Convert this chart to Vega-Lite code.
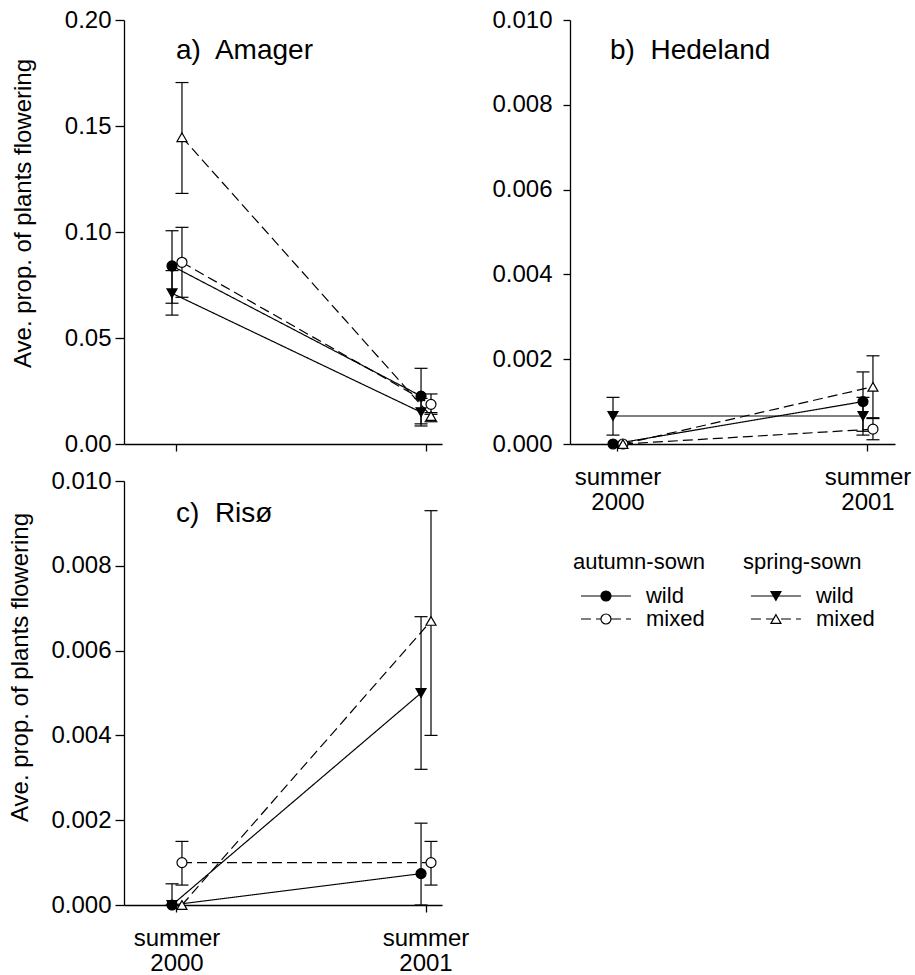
{
  "$schema": "https://vega.github.io/schema/vega-lite/v6.json",
  "autosize": "pad",
  "padding": {"left": 8, "top": 8, "right": 5, "bottom": 5},
  "background": "white",
  "config": {
    "font": "Liberation Sans",
    "view": {"stroke": null},
    "axis": {"grid": false, "domainColor": "black", "tickColor": "black", "labelColor": "black", "titleColor": "black", "labelFont": "Liberation Sans", "titleFont": "Liberation Sans", "labelFontSize": 24, "titleFontSize": 24, "titleFontWeight": "normal", "domainWidth": 1.3, "tickWidth": 1.3},
    "title": {"anchor": "start", "frame": "group", "offset": 0, "baseline": "alphabetic", "fontSize": 28, "fontWeight": "normal", "font": "Liberation Sans", "color": "black"},
    "text": {"font": "Liberation Sans", "color": "black"}
  },
  "bounds": "full",
  "spacing": 22,
  "datasets": {
    "flowering": [
      {"site": "Amager", "season": "summer 2000", "sowing": "autumn", "type": "wild", "series": "autumn wild", "mean": 0.084, "lo": 0.0664, "hi": 0.1006},
      {"site": "Amager", "season": "summer 2000", "sowing": "autumn", "type": "mixed", "series": "autumn mixed", "mean": 0.0857, "lo": 0.0692, "hi": 0.1022},
      {"site": "Amager", "season": "summer 2000", "sowing": "spring", "type": "wild", "series": "spring wild", "mean": 0.0711, "lo": 0.0608, "hi": 0.0818},
      {"site": "Amager", "season": "summer 2000", "sowing": "spring", "type": "mixed", "series": "spring mixed", "mean": 0.1447, "lo": 0.1182, "hi": 0.1705},
      {"site": "Amager", "season": "summer 2001", "sowing": "autumn", "type": "wild", "series": "autumn wild", "mean": 0.0226, "lo": 0.0095, "hi": 0.0357},
      {"site": "Amager", "season": "summer 2001", "sowing": "autumn", "type": "mixed", "series": "autumn mixed", "mean": 0.0187, "lo": 0.014, "hi": 0.0236},
      {"site": "Amager", "season": "summer 2001", "sowing": "spring", "type": "wild", "series": "spring wild", "mean": 0.015, "lo": 0.0085, "hi": 0.0215},
      {"site": "Amager", "season": "summer 2001", "sowing": "spring", "type": "mixed", "series": "spring mixed", "mean": 0.0132, "lo": 0.0105, "hi": 0.0148},
      {"site": "Hedeland", "season": "summer 2000", "sowing": "autumn", "type": "wild", "series": "autumn wild", "mean": 0, "lo": null, "hi": null},
      {"site": "Hedeland", "season": "summer 2000", "sowing": "autumn", "type": "mixed", "series": "autumn mixed", "mean": 0, "lo": null, "hi": null},
      {"site": "Hedeland", "season": "summer 2000", "sowing": "spring", "type": "wild", "series": "spring wild", "mean": 0.00066, "lo": 0.00021, "hi": 0.0011},
      {"site": "Hedeland", "season": "summer 2000", "sowing": "spring", "type": "mixed", "series": "spring mixed", "mean": 0, "lo": null, "hi": null},
      {"site": "Hedeland", "season": "summer 2001", "sowing": "autumn", "type": "wild", "series": "autumn wild", "mean": 0.001, "lo": 0.0003, "hi": 0.0017},
      {"site": "Hedeland", "season": "summer 2001", "sowing": "autumn", "type": "mixed", "series": "autumn mixed", "mean": 0.00035, "lo": 0.0001, "hi": 0.0006},
      {"site": "Hedeland", "season": "summer 2001", "sowing": "spring", "type": "wild", "series": "spring wild", "mean": 0.00066, "lo": 0.00021, "hi": 0.0011},
      {"site": "Hedeland", "season": "summer 2001", "sowing": "spring", "type": "mixed", "series": "spring mixed", "mean": 0.00135, "lo": 0.00062, "hi": 0.00208},
      {"site": "Risø", "season": "summer 2000", "sowing": "autumn", "type": "wild", "series": "autumn wild", "mean": 0, "lo": 0, "hi": 0.0005},
      {"site": "Risø", "season": "summer 2000", "sowing": "autumn", "type": "mixed", "series": "autumn mixed", "mean": 0.001, "lo": 0.00047, "hi": 0.0015},
      {"site": "Risø", "season": "summer 2000", "sowing": "spring", "type": "wild", "series": "spring wild", "mean": 0, "lo": null, "hi": null},
      {"site": "Risø", "season": "summer 2000", "sowing": "spring", "type": "mixed", "series": "spring mixed", "mean": 0, "lo": null, "hi": null},
      {"site": "Risø", "season": "summer 2001", "sowing": "autumn", "type": "wild", "series": "autumn wild", "mean": 0.00074, "lo": 0, "hi": 0.00193},
      {"site": "Risø", "season": "summer 2001", "sowing": "autumn", "type": "mixed", "series": "autumn mixed", "mean": 0.001, "lo": 0.00047, "hi": 0.0015},
      {"site": "Risø", "season": "summer 2001", "sowing": "spring", "type": "wild", "series": "spring wild", "mean": 0.005, "lo": 0.0032, "hi": 0.0068},
      {"site": "Risø", "season": "summer 2001", "sowing": "spring", "type": "mixed", "series": "spring mixed", "mean": 0.0067, "lo": 0.004, "hi": 0.0093}
    ],
    "legend": [
      {"sowing": "autumn-sown", "row": "header", "series": null, "label": "autumn-sown"},
      {"sowing": "spring-sown", "row": "header", "series": null, "label": "spring-sown"},
      {"sowing": "autumn-sown", "row": "wild", "series": "autumn wild", "label": "wild"},
      {"sowing": "autumn-sown", "row": "mixed", "series": "autumn mixed", "label": "mixed"},
      {"sowing": "spring-sown", "row": "wild", "series": "spring wild", "label": "wild"},
      {"sowing": "spring-sown", "row": "mixed", "series": "spring mixed", "label": "mixed"}
    ]
  },
  "hconcat": [
    {
      "bounds": "flush",
      "spacing": 37,
      "vconcat": [
        {
          "width": 318, "height": 424,
          "data": {"name": "flowering"},
          "transform": [{"filter": "datum.site === 'Amager'"}],
          "title": {"text": "a)\u00a0 Amager", "dx": 52, "dy": 61},
          "encoding": {
            "x": {"field": "season", "type": "nominal", "scale": {"type": "band", "domain": ["summer 2000", "summer 2001"], "paddingInner": 0.96, "paddingOuter": 0.1185, "align": 0.8136}, "axis": {"title": null, "labels": false, "tickSize": 7}},
            "xOffset": {"field": "type", "type": "nominal", "scale": {"type": "point", "domain": ["wild", "mixed"], "padding": 0}}
          },
          "layer": [
            {"mark": {"type": "rule", "color": "black", "strokeWidth": 1.2},
             "encoding": {"y": {"field": "lo", "type": "quantitative", "title": "Ave. prop. of plants flowering", "scale": {"domain": [0, 0.2], "nice": false}, "axis": {"values": [0, 0.05, 0.1, 0.15, 0.2], "format": ".2f", "tickSize": 9, "labelPadding": 4, "titlePadding": 29, "titleY": 193}}, "y2": {"field": "hi"}}},
            {"mark": {"type": "point", "shape": "stroke", "size": 169, "color": "black", "strokeWidth": 1.2, "opacity": 1},
             "encoding": {"y": {"field": "lo", "type": "quantitative", "title": "Ave. prop. of plants flowering", "scale": {"domain": [0, 0.2], "nice": false}, "axis": {"values": [0, 0.05, 0.1, 0.15, 0.2], "format": ".2f", "tickSize": 9, "labelPadding": 4, "titlePadding": 29, "titleY": 193}}}},
            {"mark": {"type": "point", "shape": "stroke", "size": 169, "color": "black", "strokeWidth": 1.2, "opacity": 1},
             "encoding": {"y": {"field": "hi", "type": "quantitative", "title": "Ave. prop. of plants flowering", "scale": {"domain": [0, 0.2], "nice": false}, "axis": {"values": [0, 0.05, 0.1, 0.15, 0.2], "format": ".2f", "tickSize": 9, "labelPadding": 4, "titlePadding": 29, "titleY": 193}}}},
            {"mark": {"type": "line", "color": "black", "strokeWidth": 1.2},
             "encoding": {"y": {"field": "mean", "type": "quantitative", "title": "Ave. prop. of plants flowering", "scale": {"domain": [0, 0.2], "nice": false}, "axis": {"values": [0, 0.05, 0.1, 0.15, 0.2], "format": ".2f", "tickSize": 9, "labelPadding": 4, "titlePadding": 29, "titleY": 193}},
               "detail": {"field": "series"},
               "strokeDash": {"field": "type", "type": "nominal", "scale": {"domain": ["wild", "mixed"], "range": [[1, 0], [10, 5]]}, "legend": null}}},
            {"mark": {"type": "point", "filled": true, "size": 100, "stroke": "black", "strokeWidth": 1.2, "opacity": 1},
             "encoding": {"y": {"field": "mean", "type": "quantitative", "title": "Ave. prop. of plants flowering", "scale": {"domain": [0, 0.2], "nice": false}, "axis": {"values": [0, 0.05, 0.1, 0.15, 0.2], "format": ".2f", "tickSize": 9, "labelPadding": 4, "titlePadding": 29, "titleY": 193}},
               "shape": {"field": "series", "type": "nominal", "scale": {"domain": ["autumn wild", "autumn mixed", "spring wild", "spring mixed"], "range": ["circle", "circle", "triangle-down", "triangle-up"]}, "legend": null},
               "fill": {"field": "type", "type": "nominal", "scale": {"domain": ["wild", "mixed"], "range": ["black", "white"]}, "legend": null}}}
          ]
        },
        {
          "width": 318, "height": 424,
          "data": {"name": "flowering"},
          "transform": [{"filter": "datum.site === 'Risø'"}],
          "title": {"text": "c)\u00a0 Risø", "dx": 52, "dy": 63},
          "encoding": {
            "x": {"field": "season", "type": "nominal", "scale": {"type": "band", "domain": ["summer 2000", "summer 2001"], "paddingInner": 0.96, "paddingOuter": 0.1185, "align": 0.8136}, "axis": {"title": null, "labelExpr": "split(datum.value, ' ')", "labelAngle": 0, "tickSize": 7, "labelPadding": 14, "labelLineHeight": 25}},
            "xOffset": {"field": "type", "type": "nominal", "scale": {"type": "point", "domain": ["wild", "mixed"], "padding": 0}}
          },
          "layer": [
            {"mark": {"type": "rule", "color": "black", "strokeWidth": 1.2},
             "encoding": {"y": {"field": "lo", "type": "quantitative", "title": "Ave. prop. of plants flowering", "scale": {"domain": [0, 0.01], "nice": false}, "axis": {"values": [0, 0.002, 0.004, 0.006, 0.008, 0.01], "format": ".3f", "tickSize": 9, "labelPadding": 4, "titlePadding": 18, "titleY": 186}}, "y2": {"field": "hi"}}},
            {"mark": {"type": "point", "shape": "stroke", "size": 169, "color": "black", "strokeWidth": 1.2, "opacity": 1},
             "encoding": {"y": {"field": "lo", "type": "quantitative", "title": "Ave. prop. of plants flowering", "scale": {"domain": [0, 0.01], "nice": false}, "axis": {"values": [0, 0.002, 0.004, 0.006, 0.008, 0.01], "format": ".3f", "tickSize": 9, "labelPadding": 4, "titlePadding": 18, "titleY": 186}}}},
            {"mark": {"type": "point", "shape": "stroke", "size": 169, "color": "black", "strokeWidth": 1.2, "opacity": 1},
             "encoding": {"y": {"field": "hi", "type": "quantitative", "title": "Ave. prop. of plants flowering", "scale": {"domain": [0, 0.01], "nice": false}, "axis": {"values": [0, 0.002, 0.004, 0.006, 0.008, 0.01], "format": ".3f", "tickSize": 9, "labelPadding": 4, "titlePadding": 18, "titleY": 186}}}},
            {"mark": {"type": "line", "color": "black", "strokeWidth": 1.2},
             "encoding": {"y": {"field": "mean", "type": "quantitative", "title": "Ave. prop. of plants flowering", "scale": {"domain": [0, 0.01], "nice": false}, "axis": {"values": [0, 0.002, 0.004, 0.006, 0.008, 0.01], "format": ".3f", "tickSize": 9, "labelPadding": 4, "titlePadding": 18, "titleY": 186}},
               "detail": {"field": "series"},
               "strokeDash": {"field": "type", "type": "nominal", "scale": {"domain": ["wild", "mixed"], "range": [[1, 0], [10, 5]]}, "legend": null}}},
            {"mark": {"type": "point", "filled": true, "size": 100, "stroke": "black", "strokeWidth": 1.2, "opacity": 1},
             "encoding": {"y": {"field": "mean", "type": "quantitative", "title": "Ave. prop. of plants flowering", "scale": {"domain": [0, 0.01], "nice": false}, "axis": {"values": [0, 0.002, 0.004, 0.006, 0.008, 0.01], "format": ".3f", "tickSize": 9, "labelPadding": 4, "titlePadding": 18, "titleY": 186}},
               "shape": {"field": "series", "type": "nominal", "scale": {"domain": ["autumn wild", "autumn mixed", "spring wild", "spring mixed"], "range": ["circle", "circle", "triangle-down", "triangle-up"]}, "legend": null},
               "fill": {"field": "type", "type": "nominal", "scale": {"domain": ["wild", "mixed"], "range": ["black", "white"]}, "legend": null}}}
          ]
        }
      ]
    },
    {
      "bounds": "flush",
      "spacing": 106,
      "vconcat": [
        {
          "width": 325, "height": 424,
          "data": {"name": "flowering"},
          "transform": [{"filter": "datum.site === 'Hedeland'"}],
          "title": {"text": "b)\u00a0 Hedeland", "dx": 40, "dy": 61},
          "encoding": {
            "x": {"field": "season", "type": "nominal", "scale": {"type": "band", "domain": ["summer 2000", "summer 2001"], "paddingInner": 0.96, "paddingOuter": 0.13, "align": 0.6615}, "axis": {"title": null, "labelExpr": "split(datum.value, ' ')", "labelAngle": 0, "tickSize": 7, "labelPadding": 14, "labelLineHeight": 25}},
            "xOffset": {"field": "type", "type": "nominal", "scale": {"type": "point", "domain": ["wild", "mixed"], "padding": 0}}
          },
          "layer": [
            {"mark": {"type": "rule", "color": "black", "strokeWidth": 1.2},
             "encoding": {"y": {"field": "lo", "type": "quantitative", "title": null, "scale": {"domain": [0, 0.01], "nice": false}, "axis": {"values": [0, 0.002, 0.004, 0.006, 0.008, 0.01], "format": ".3f", "tickSize": 7, "labelPadding": 11}}, "y2": {"field": "hi"}}},
            {"mark": {"type": "point", "shape": "stroke", "size": 169, "color": "black", "strokeWidth": 1.2, "opacity": 1},
             "encoding": {"y": {"field": "lo", "type": "quantitative", "title": null, "scale": {"domain": [0, 0.01], "nice": false}, "axis": {"values": [0, 0.002, 0.004, 0.006, 0.008, 0.01], "format": ".3f", "tickSize": 7, "labelPadding": 11}}}},
            {"mark": {"type": "point", "shape": "stroke", "size": 169, "color": "black", "strokeWidth": 1.2, "opacity": 1},
             "encoding": {"y": {"field": "hi", "type": "quantitative", "title": null, "scale": {"domain": [0, 0.01], "nice": false}, "axis": {"values": [0, 0.002, 0.004, 0.006, 0.008, 0.01], "format": ".3f", "tickSize": 7, "labelPadding": 11}}}},
            {"mark": {"type": "line", "color": "black", "strokeWidth": 1.2},
             "encoding": {"y": {"field": "mean", "type": "quantitative", "title": null, "scale": {"domain": [0, 0.01], "nice": false}, "axis": {"values": [0, 0.002, 0.004, 0.006, 0.008, 0.01], "format": ".3f", "tickSize": 7, "labelPadding": 11}},
               "detail": {"field": "series"},
               "strokeDash": {"field": "type", "type": "nominal", "scale": {"domain": ["wild", "mixed"], "range": [[1, 0], [10, 5]]}, "legend": null}}},
            {"mark": {"type": "point", "filled": true, "size": 100, "stroke": "black", "strokeWidth": 1.2, "opacity": 1},
             "encoding": {"y": {"field": "mean", "type": "quantitative", "title": null, "scale": {"domain": [0, 0.01], "nice": false}, "axis": {"values": [0, 0.002, 0.004, 0.006, 0.008, 0.01], "format": ".3f", "tickSize": 7, "labelPadding": 11}},
               "shape": {"field": "series", "type": "nominal", "scale": {"domain": ["autumn wild", "autumn mixed", "spring wild", "spring mixed"], "range": ["circle", "circle", "triangle-down", "triangle-up"]}, "legend": null},
               "fill": {"field": "type", "type": "nominal", "scale": {"domain": ["wild", "mixed"], "range": ["black", "white"]}, "legend": null}}}
          ]
        },
        {
          "width": 325, "height": 92,
          "data": {"name": "legend"},
          "encoding": {
            "x": {"field": "sowing", "type": "nominal", "scale": {"type": "point", "domain": ["autumn-sown", "spring-sown"], "padding": 0.456, "align": 0.232}, "axis": null},
            "y": {"field": "row", "type": "nominal", "scale": {"type": "point", "domain": ["header", "wild", "mixed"], "padding": 1, "align": 0.5}, "axis": null}
          },
          "layer": [
            {"transform": [{"filter": "datum.row !== 'header'"}],
             "mark": {"type": "point", "shape": "stroke", "size": 2500, "color": "black", "strokeWidth": 1.2, "opacity": 1},
             "encoding": {"strokeDash": {"field": "row", "type": "nominal", "scale": {"domain": ["wild", "mixed"], "range": [[1, 0], [15, 20, 15]]}, "legend": null}}},
            {"transform": [{"filter": "datum.row !== 'header'"}],
             "mark": {"type": "point", "filled": true, "size": 100, "stroke": "black", "strokeWidth": 1.2, "opacity": 1},
             "encoding": {
               "shape": {"field": "series", "type": "nominal", "scale": {"domain": ["autumn wild", "autumn mixed", "spring wild", "spring mixed"], "range": ["circle", "circle", "triangle-down", "triangle-up"]}, "legend": null},
               "fill": {"field": "row", "type": "nominal", "scale": {"domain": ["wild", "mixed"], "range": ["black", "white"]}, "legend": null}}},
            {"transform": [{"filter": "datum.row !== 'header'"}],
             "mark": {"type": "text", "align": "left", "baseline": "middle", "dx": 40, "fontSize": 22},
             "encoding": {"text": {"field": "label"}}},
            {"transform": [{"filter": "datum.row === 'header'"}],
             "mark": {"type": "text", "align": "left", "baseline": "alphabetic", "dx": -33, "dy": -4, "fontSize": 22},
             "encoding": {"text": {"field": "label"}}}
          ]
        }
      ]
    }
  ]
}
